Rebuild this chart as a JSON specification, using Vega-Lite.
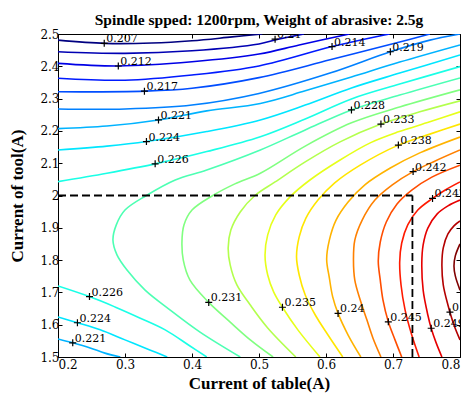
{
"$schema":"https://vega.github.io/schema/vega-lite/v6.json",
"width":402,"height":323,"autosize":"none",
"padding":{"left":58,"top":34,"right":10,"bottom":38},
"background":"white",
"title":{"text":"Spindle spped: 1200rpm, Weight of abrasive: 2.5g","font":"Liberation Serif","fontSize":15.5,"fontWeight":"bold","color":"black","offset":10,"baseline":"alphabetic","dy":22},
"config":{"view":{"stroke":"black","strokeWidth":1},"axis":{"grid":false,"domain":false,"tickColor":"black","tickSize":-4,"labelFont":"DejaVu Serif","labelFontSize":12,"labelColor":"black","labelPadding":3,"titleFont":"Liberation Serif","titleFontSize":17,"titleFontWeight":"bold","titleColor":"black"}},
"resolve":{"axis":{"x":"independent","y":"independent"}},
"datasets":{
"lines":[
{"s":"0","l":0,"i":0,"x":0.2,"y":2.481},{"s":"0","l":0,"i":1,"x":0.27,"y":2.471},{"s":"0","l":0,"i":2,"x":0.34,"y":2.472},{"s":"0","l":0,"i":3,"x":0.4,"y":2.479},{"s":"0","l":0,"i":4,"x":0.46,"y":2.491},{"s":"0","l":0,"i":5,"x":0.505,"y":2.5},
{"s":"1","l":1,"i":0,"x":0.2,"y":2.445},{"s":"1","l":1,"i":1,"x":0.3,"y":2.44},{"s":"1","l":1,"i":2,"x":0.4,"y":2.448},{"s":"1","l":1,"i":3,"x":0.5,"y":2.469},{"s":"1","l":1,"i":4,"x":0.527,"y":2.483},{"s":"1","l":1,"i":5,"x":0.567,"y":2.5},
{"s":"2","l":2,"i":0,"x":0.2,"y":2.409},{"s":"2","l":2,"i":1,"x":0.29,"y":2.401},{"s":"2","l":2,"i":2,"x":0.4,"y":2.414},{"s":"2","l":2,"i":3,"x":0.5,"y":2.438},{"s":"2","l":2,"i":4,"x":0.56,"y":2.466},{"s":"2","l":2,"i":5,"x":0.635,"y":2.5},
{"s":"3","l":3,"i":0,"x":0.2,"y":2.363},{"s":"3","l":3,"i":1,"x":0.3,"y":2.357},{"s":"3","l":3,"i":2,"x":0.4,"y":2.373},{"s":"3","l":3,"i":3,"x":0.5,"y":2.401},{"s":"3","l":3,"i":4,"x":0.609,"y":2.461},{"s":"3","l":3,"i":5,"x":0.68,"y":2.494},{"s":"3","l":3,"i":6,"x":0.695,"y":2.5},
{"s":"4","l":4,"i":0,"x":0.2,"y":2.321},{"s":"4","l":4,"i":1,"x":0.33,"y":2.323},{"s":"4","l":4,"i":2,"x":0.4,"y":2.332},{"s":"4","l":4,"i":3,"x":0.5,"y":2.365},{"s":"4","l":4,"i":4,"x":0.606,"y":2.42},{"s":"4","l":4,"i":5,"x":0.71,"y":2.475},{"s":"4","l":4,"i":6,"x":0.755,"y":2.5},
{"s":"5","l":5,"i":0,"x":0.2,"y":2.268},{"s":"5","l":5,"i":1,"x":0.3,"y":2.268},{"s":"5","l":5,"i":2,"x":0.4,"y":2.28},{"s":"5","l":5,"i":3,"x":0.5,"y":2.316},{"s":"5","l":5,"i":4,"x":0.606,"y":2.379},{"s":"5","l":5,"i":5,"x":0.696,"y":2.445},{"s":"5","l":5,"i":6,"x":0.755,"y":2.481},{"s":"5","l":5,"i":7,"x":0.8,"y":2.5},
{"s":"6a","l":6,"i":0,"x":0.2,"y":2.207},{"s":"6a","l":6,"i":1,"x":0.273,"y":2.215},{"s":"6a","l":6,"i":2,"x":0.35,"y":2.234},{"s":"6a","l":6,"i":3,"x":0.422,"y":2.262},{"s":"6a","l":6,"i":4,"x":0.502,"y":2.285},{"s":"6a","l":6,"i":5,"x":0.569,"y":2.324},{"s":"6a","l":6,"i":6,"x":0.638,"y":2.367},{"s":"6a","l":6,"i":7,"x":0.71,"y":2.413},{"s":"6a","l":6,"i":8,"x":0.8,"y":2.466},
{"s":"7a","l":7,"i":0,"x":0.2,"y":2.141},{"s":"7a","l":7,"i":1,"x":0.273,"y":2.153},{"s":"7a","l":7,"i":2,"x":0.332,"y":2.167},{"s":"7a","l":7,"i":3,"x":0.422,"y":2.198},{"s":"7a","l":7,"i":4,"x":0.502,"y":2.234},{"s":"7a","l":7,"i":5,"x":0.569,"y":2.28},{"s":"7a","l":7,"i":6,"x":0.638,"y":2.333},{"s":"7a","l":7,"i":7,"x":0.71,"y":2.379},{"s":"7a","l":7,"i":8,"x":0.8,"y":2.435},
{"s":"8a","l":8,"i":0,"x":0.2,"y":2.043},{"s":"8a","l":8,"i":1,"x":0.273,"y":2.069},{"s":"8a","l":8,"i":2,"x":0.345,"y":2.098},{"s":"8a","l":8,"i":3,"x":0.422,"y":2.136},{"s":"8a","l":8,"i":4,"x":0.502,"y":2.182},{"s":"8a","l":8,"i":5,"x":0.569,"y":2.237},{"s":"8a","l":8,"i":6,"x":0.638,"y":2.299},{"s":"8a","l":8,"i":7,"x":0.71,"y":2.345},{"s":"8a","l":8,"i":8,"x":0.8,"y":2.399},
{"s":"6b","l":6,"i":0,"x":0.2,"y":1.556},{"s":"6b","l":6,"i":1,"x":0.222,"y":1.544},{"s":"6b","l":6,"i":2,"x":0.248,"y":1.528},{"s":"6b","l":6,"i":3,"x":0.27,"y":1.512},{"s":"6b","l":6,"i":4,"x":0.293,"y":1.5},
{"s":"7b","l":7,"i":0,"x":0.2,"y":1.624},{"s":"7b","l":7,"i":1,"x":0.229,"y":1.606},{"s":"7b","l":7,"i":2,"x":0.263,"y":1.584},{"s":"7b","l":7,"i":3,"x":0.3,"y":1.553},{"s":"7b","l":7,"i":4,"x":0.337,"y":1.522},{"s":"7b","l":7,"i":5,"x":0.363,"y":1.5},
{"s":"8b","l":8,"i":0,"x":0.2,"y":1.72},{"s":"8b","l":8,"i":1,"x":0.247,"y":1.687},{"s":"8b","l":8,"i":2,"x":0.285,"y":1.655},{"s":"8b","l":8,"i":3,"x":0.322,"y":1.621},{"s":"8b","l":8,"i":4,"x":0.36,"y":1.584},{"s":"8b","l":8,"i":5,"x":0.397,"y":1.534},{"s":"8b","l":8,"i":6,"x":0.422,"y":1.5},
{"s":"9","l":9,"i":0,"x":0.8,"y":2.364},{"s":"9","l":9,"i":1,"x":0.71,"y":2.311},{"s":"9","l":9,"i":2,"x":0.638,"y":2.265},{"s":"9","l":9,"i":3,"x":0.569,"y":2.203},{"s":"9","l":9,"i":4,"x":0.502,"y":2.141},{"s":"9","l":9,"i":5,"x":0.422,"y":2.079},{"s":"9","l":9,"i":6,"x":0.375,"y":2.048},{"s":"9","l":9,"i":7,"x":0.332,"y":2.0},{"s":"9","l":9,"i":8,"x":0.3,"y":1.955},{"s":"9","l":9,"i":9,"x":0.287,"y":1.909},{"s":"9","l":9,"i":10,"x":0.282,"y":1.862},{"s":"9","l":9,"i":11,"x":0.288,"y":1.816},{"s":"9","l":9,"i":12,"x":0.303,"y":1.769},{"s":"9","l":9,"i":13,"x":0.33,"y":1.707},{"s":"9","l":9,"i":14,"x":0.367,"y":1.646},{"s":"9","l":9,"i":15,"x":0.412,"y":1.577},{"s":"9","l":9,"i":16,"x":0.472,"y":1.5},
{"s":"10","l":10,"i":0,"x":0.8,"y":2.327},{"s":"10","l":10,"i":1,"x":0.71,"y":2.274},{"s":"10","l":10,"i":2,"x":0.638,"y":2.225},{"s":"10","l":10,"i":3,"x":0.569,"y":2.153},{"s":"10","l":10,"i":4,"x":0.502,"y":2.069},{"s":"10","l":10,"i":5,"x":0.464,"y":2.036},{"s":"10","l":10,"i":6,"x":0.431,"y":2.0},{"s":"10","l":10,"i":7,"x":0.4,"y":1.955},{"s":"10","l":10,"i":8,"x":0.388,"y":1.909},{"s":"10","l":10,"i":9,"x":0.385,"y":1.856},{"s":"10","l":10,"i":10,"x":0.387,"y":1.8},{"s":"10","l":10,"i":11,"x":0.397,"y":1.738},{"s":"10","l":10,"i":12,"x":0.425,"y":1.669},{"s":"10","l":10,"i":13,"x":0.457,"y":1.608},{"s":"10","l":10,"i":14,"x":0.487,"y":1.553},{"s":"10","l":10,"i":15,"x":0.521,"y":1.5},
{"s":"11","l":11,"i":0,"x":0.8,"y":2.293},{"s":"11","l":11,"i":1,"x":0.74,"y":2.259},{"s":"11","l":11,"i":2,"x":0.682,"y":2.221},{"s":"11","l":11,"i":3,"x":0.621,"y":2.166},{"s":"11","l":11,"i":4,"x":0.569,"y":2.104},{"s":"11","l":11,"i":5,"x":0.524,"y":2.042},{"s":"11","l":11,"i":6,"x":0.494,"y":2.0},{"s":"11","l":11,"i":7,"x":0.472,"y":1.949},{"s":"11","l":11,"i":8,"x":0.458,"y":1.893},{"s":"11","l":11,"i":9,"x":0.454,"y":1.838},{"s":"11","l":11,"i":10,"x":0.457,"y":1.785},{"s":"11","l":11,"i":11,"x":0.467,"y":1.723},{"s":"11","l":11,"i":12,"x":0.487,"y":1.661},{"s":"11","l":11,"i":13,"x":0.513,"y":1.59},{"s":"11","l":11,"i":14,"x":0.555,"y":1.5},
{"s":"12","l":12,"i":0,"x":0.8,"y":2.259},{"s":"12","l":12,"i":1,"x":0.755,"y":2.228},{"s":"12","l":12,"i":2,"x":0.708,"y":2.197},{"s":"12","l":12,"i":3,"x":0.666,"y":2.163},{"s":"12","l":12,"i":4,"x":0.621,"y":2.11},{"s":"12","l":12,"i":5,"x":0.576,"y":2.048},{"s":"12","l":12,"i":6,"x":0.546,"y":1.995},{"s":"12","l":12,"i":7,"x":0.525,"y":1.94},{"s":"12","l":12,"i":8,"x":0.513,"y":1.878},{"s":"12","l":12,"i":9,"x":0.509,"y":1.816},{"s":"12","l":12,"i":10,"x":0.513,"y":1.754},{"s":"12","l":12,"i":11,"x":0.522,"y":1.701},{"s":"12","l":12,"i":12,"x":0.535,"y":1.654},{"s":"12","l":12,"i":13,"x":0.558,"y":1.584},{"s":"12","l":12,"i":14,"x":0.591,"y":1.5},
{"s":"13","l":13,"i":0,"x":0.8,"y":2.221},{"s":"13","l":13,"i":1,"x":0.755,"y":2.19},{"s":"13","l":13,"i":2,"x":0.708,"y":2.156},{"s":"13","l":13,"i":3,"x":0.651,"y":2.094},{"s":"13","l":13,"i":4,"x":0.613,"y":2.039},{"s":"13","l":13,"i":5,"x":0.588,"y":1.986},{"s":"13","l":13,"i":6,"x":0.57,"y":1.93},{"s":"13","l":13,"i":7,"x":0.56,"y":1.872},{"s":"13","l":13,"i":8,"x":0.556,"y":1.81},{"s":"13","l":13,"i":9,"x":0.56,"y":1.754},{"s":"13","l":13,"i":10,"x":0.569,"y":1.692},{"s":"13","l":13,"i":11,"x":0.584,"y":1.63},{"s":"13","l":13,"i":12,"x":0.603,"y":1.568},{"s":"13","l":13,"i":13,"x":0.625,"y":1.5},
{"s":"14","l":14,"i":0,"x":0.8,"y":2.181},{"s":"14","l":14,"i":1,"x":0.74,"y":2.132},{"s":"14","l":14,"i":2,"x":0.696,"y":2.085},{"s":"14","l":14,"i":3,"x":0.658,"y":2.033},{"s":"14","l":14,"i":4,"x":0.633,"y":1.98},{"s":"14","l":14,"i":5,"x":0.615,"y":1.924},{"s":"14","l":14,"i":6,"x":0.605,"y":1.862},{"s":"14","l":14,"i":7,"x":0.601,"y":1.803},{"s":"14","l":14,"i":8,"x":0.605,"y":1.745},{"s":"14","l":14,"i":9,"x":0.61,"y":1.686},{"s":"14","l":14,"i":10,"x":0.618,"y":1.635},{"s":"14","l":14,"i":11,"x":0.633,"y":1.568},{"s":"14","l":14,"i":12,"x":0.652,"y":1.5},
{"s":"15","l":15,"i":0,"x":0.8,"y":2.141},{"s":"15","l":15,"i":1,"x":0.763,"y":2.107},{"s":"15","l":15,"i":2,"x":0.73,"y":2.074},{"s":"15","l":15,"i":3,"x":0.699,"y":2.033},{"s":"15","l":15,"i":4,"x":0.673,"y":1.986},{"s":"15","l":15,"i":5,"x":0.654,"y":1.924},{"s":"15","l":15,"i":6,"x":0.643,"y":1.862},{"s":"15","l":15,"i":7,"x":0.641,"y":1.8},{"s":"15","l":15,"i":8,"x":0.643,"y":1.738},{"s":"15","l":15,"i":9,"x":0.651,"y":1.677},{"s":"15","l":15,"i":10,"x":0.661,"y":1.615},{"s":"15","l":15,"i":11,"x":0.67,"y":1.559},{"s":"15","l":15,"i":12,"x":0.682,"y":1.5},
{"s":"16","l":16,"i":0,"x":0.8,"y":2.094},{"s":"16","l":16,"i":1,"x":0.758,"y":2.057},{"s":"16","l":16,"i":2,"x":0.728,"y":2.017},{"s":"16","l":16,"i":3,"x":0.706,"y":1.974},{"s":"16","l":16,"i":4,"x":0.69,"y":1.918},{"s":"16","l":16,"i":5,"x":0.681,"y":1.856},{"s":"16","l":16,"i":6,"x":0.678,"y":1.797},{"s":"16","l":16,"i":7,"x":0.681,"y":1.738},{"s":"16","l":16,"i":8,"x":0.685,"y":1.677},{"s":"16","l":16,"i":9,"x":0.693,"y":1.609},{"s":"16","l":16,"i":10,"x":0.703,"y":1.553},{"s":"16","l":16,"i":11,"x":0.713,"y":1.5},
{"s":"17","l":17,"i":0,"x":0.8,"y":2.042},{"s":"17","l":17,"i":1,"x":0.778,"y":2.017},{"s":"17","l":17,"i":2,"x":0.759,"y":1.991},{"s":"17","l":17,"i":3,"x":0.737,"y":1.955},{"s":"17","l":17,"i":4,"x":0.722,"y":1.909},{"s":"17","l":17,"i":5,"x":0.713,"y":1.853},{"s":"17","l":17,"i":6,"x":0.71,"y":1.794},{"s":"17","l":17,"i":7,"x":0.712,"y":1.723},{"s":"17","l":17,"i":8,"x":0.718,"y":1.646},{"s":"17","l":17,"i":9,"x":0.728,"y":1.568},{"s":"17","l":17,"i":10,"x":0.739,"y":1.5},
{"s":"18","l":18,"i":0,"x":0.8,"y":1.986},{"s":"18","l":18,"i":1,"x":0.782,"y":1.968},{"s":"18","l":18,"i":2,"x":0.766,"y":1.943},{"s":"18","l":18,"i":3,"x":0.752,"y":1.899},{"s":"18","l":18,"i":4,"x":0.745,"y":1.847},{"s":"18","l":18,"i":5,"x":0.743,"y":1.791},{"s":"18","l":18,"i":6,"x":0.745,"y":1.707},{"s":"18","l":18,"i":7,"x":0.752,"y":1.63},{"s":"18","l":18,"i":8,"x":0.757,"y":1.589},{"s":"18","l":18,"i":9,"x":0.764,"y":1.546},{"s":"18","l":18,"i":10,"x":0.773,"y":1.5},
{"s":"19","l":19,"i":0,"x":0.8,"y":1.921},{"s":"19","l":19,"i":1,"x":0.791,"y":1.906},{"s":"19","l":19,"i":2,"x":0.782,"y":1.881},{"s":"19","l":19,"i":3,"x":0.775,"y":1.838},{"s":"19","l":19,"i":4,"x":0.773,"y":1.788},{"s":"19","l":19,"i":5,"x":0.775,"y":1.723},{"s":"19","l":19,"i":6,"x":0.782,"y":1.661},{"s":"19","l":19,"i":7,"x":0.791,"y":1.599},{"s":"19","l":19,"i":8,"x":0.8,"y":1.553},
{"s":"20","l":20,"i":0,"x":0.8,"y":1.85},{"s":"20","l":20,"i":1,"x":0.793,"y":1.813},{"s":"20","l":20,"i":2,"x":0.791,"y":1.782},{"s":"20","l":20,"i":3,"x":0.793,"y":1.751},{"s":"20","l":20,"i":4,"x":0.8,"y":1.707}
],
"labels":[
{"x":0.269,"y":2.471,"t":"0.207"},{"x":0.524,"y":2.484,"t":"0.21"},{"x":0.29,"y":2.401,"t":"0.212"},{"x":0.609,"y":2.461,"t":"0.214"},{"x":0.329,"y":2.323,"t":"0.217"},{"x":0.696,"y":2.445,"t":"0.219"},{"x":0.35,"y":2.234,"t":"0.221"},{"x":0.332,"y":2.167,"t":"0.224"},{"x":0.345,"y":2.098,"t":"0.226"},{"x":0.638,"y":2.265,"t":"0.228"},{"x":0.682,"y":2.221,"t":"0.233"},{"x":0.708,"y":2.156,"t":"0.238"},{"x":0.73,"y":2.074,"t":"0.242"},{"x":0.759,"y":1.991,"t":"0.247"},{"x":0.247,"y":1.687,"t":"0.226"},{"x":0.229,"y":1.606,"t":"0.224"},{"x":0.222,"y":1.544,"t":"0.221"},{"x":0.425,"y":1.669,"t":"0.231"},{"x":0.535,"y":1.654,"t":"0.235"},{"x":0.618,"y":1.635,"t":"0.24"},{"x":0.693,"y":1.609,"t":"0.245"},{"x":0.757,"y":1.589,"t":"0.249"},{"x":0.785,"y":1.639,"t":"0.252"}
],
"dash":[{"x":0.2,"x2":0.729,"y":2.0,"y2":2.0},{"x":0.729,"x2":0.729,"y":1.5,"y2":2.0}]
},
"layer":[
{"data":{"name":"lines"},
 "mark":{"type":"line","strokeWidth":1.6,"clip":true,"interpolate":"catmull-rom"},
 "encoding":{
  "x":{"field":"x","type":"quantitative","scale":{"domain":[0.2,0.8],"nice":false,"zero":false},"axis":{"orient":"bottom","values":[0.2,0.3,0.4,0.5,0.6,0.7,0.8],"format":"~g","title":"Current of table(A)","titlePadding":5,"labelPadding":6}},
  "y":{"field":"y","type":"quantitative","scale":{"domain":[1.5,2.5],"nice":false,"zero":false},"axis":{"orient":"left","values":[1.5,1.6,1.7,1.8,1.9,2.0,2.1,2.2,2.3,2.4,2.5],"format":"~g","title":"Current of tool(A)","titlePadding":13}},
  "detail":{"field":"s","type":"nominal"},
  "order":{"field":"i","type":"quantitative"},
  "color":{"field":"l","type":"ordinal","legend":null,"scale":{"domain":[0,1,2,3,4,5,6,7,8,9,10,11,12,13,14,15,16,17,18,19,20],"range":["#000080","#0000B3","#0000E6","#001AFF","#004DFF","#0080FF","#00B3FF","#00E6FF","#1AFFE6","#4DFFB3","#80FF80","#B3FF4D","#E6FF1A","#FFE600","#FFB300","#FF8000","#FF4D00","#FF1A00","#E60000","#B30000","#800000"]}}
 }},
{"data":{"name":"dash"},
 "mark":{"type":"rule","color":"black","strokeWidth":1.8,"strokeDash":[8,4]},
 "encoding":{
  "x":{"field":"x","type":"quantitative","axis":{"orient":"top","labels":false,"title":null,"labelPadding":0,"minExtent":0,"maxExtent":0,"values":[0.2,0.3,0.4,0.5,0.6,0.7,0.8]}},
  "x2":{"field":"x2"},
  "y":{"field":"y","type":"quantitative","axis":{"orient":"right","labels":false,"title":null,"labelPadding":0,"minExtent":0,"maxExtent":0,"values":[1.5,1.6,1.7,1.8,1.9,2.0,2.1,2.2,2.3,2.4,2.5]}},
  "y2":{"field":"y2"}
 }},
{"data":{"name":"labels"},
 "mark":{"type":"point","shape":"M-1,0L1,0M0,-1L0,1","size":49,"stroke":"black","strokeWidth":1.2,"filled":false,"opacity":1},
 "encoding":{"x":{"field":"x","type":"quantitative","axis":null},"y":{"field":"y","type":"quantitative","axis":null}}},
{"data":{"name":"labels"},
 "mark":{"type":"text","align":"left","baseline":"alphabetic","dx":2,"dy":-1,"font":"DejaVu Serif","fontSize":11,"color":"black","clip":true},
 "encoding":{"x":{"field":"x","type":"quantitative","axis":null},"y":{"field":"y","type":"quantitative","axis":null},"text":{"field":"t"}}}
]
}
